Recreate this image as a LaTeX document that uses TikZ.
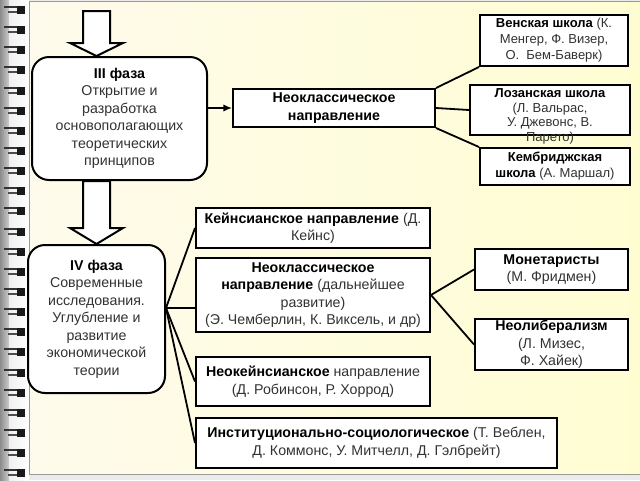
\documentclass[tikz,border=0pt]{standalone}
\usepackage{fontspec}
\setmainfont{Liberation Sans}
\usetikzlibrary{arrows.meta,calc}
\definecolor{pageleft}{RGB}{255,251,236}
\definecolor{pageright}{RGB}{254,253,210}
\definecolor{boxtext}{RGB}{50,50,50}
\newcommand{\ttl}[1]{\textbf{\color{black}#1}}

\begin{document}
\begin{tikzpicture}[x=1pt,y=-1pt,
  phasebox/.style={
    draw,
    line width=2pt,
    fill=white,
    rounded corners=17pt,
    align=center,
    inner sep=0pt,
    text=boxtext,
    font=\fontsize{14.2}{17.5}\selectfont
  },
  schoolbox/.style={
    draw,
    line width=2pt,
    fill=white,
    align=center,
    inner sep=0pt,
    text=boxtext,
    font=\fontsize{14.2}{17.5}\selectfont
  },
  topschool/.style={
    schoolbox,
    font=\fontsize{13}{16}\selectfont
  },
  link/.style={line width=1.8pt},
  flowarrow/.style={-{Latex[length=3mm,width=2.6mm]}, line width=1.8pt},
  blockarrow/.style={draw, line width=2pt, fill=white, line join=miter}
  ]

  \useasboundingbox (0,0) rectangle (640,480);

  % notebook page
  \fill[black!8] (0,0) rectangle (640,480);
  \shade[left color=black!45, right color=black!20] (0,0) rectangle (9,480);
  \shade[left color=black!6, right color=white] (9,0) rectangle (29,480);
  \shade[left color=pageleft, right color=pageright] (29,1) rectangle (640,474);
  \draw[black!40, line width=0.8pt] (640,1) -- (29,1) -- (29,474) -- (640,474);
  \foreach \k in {0,...,23}{
    \pgfmathsetmacro\yy{10+20.14*\k}
    \fill[black!90] (17,\yy-4) rectangle (25,\yy+4);
    \fill[black!80] (4,\yy-4) rectangle (17,\yy-2);
    \fill[black!70] (8,\yy+1) rectangle (17,\yy+3);
  }

  % phases
  \node[phasebox, minimum width=175pt, minimum height=123pt] (phase3) at (119.5,118.5) {
    \ttl{III фаза}\\
    Открытие и\\
    разработка\\
    основополагающих\\
    теоретических\\
    принципов
  };
  \node[phasebox, minimum width=137pt, minimum height=148pt] (phase4) at (96.5,319) {
    \ttl{IV фаза}\\
    Современные\\
    исследования.\\
    Углубление и\\
    развитие\\
    экономической\\
    теории
  };

  % III phase branch
  \node[schoolbox, minimum width=202pt, minimum height=38pt] (neo) at (334,108) {
    \ttl{Неоклассическое}\\
    \ttl{направление}
  };
  \node[topschool, minimum width=148pt, minimum height=51pt] (vienna) at (554,40.5) {
    \ttl{Венская школа} (К.\\
    Менгер, Ф. Визер,\\
    О.~~Бем-Баверк)
  };
  \node[topschool, minimum width=160pt, minimum height=50pt] (lausanne) at (550,110) {};
  \node[text=boxtext, align=center, font=\fontsize{13}{14.5}\selectfont] (lausannetext) at (550,116.5) {
    \ttl{Лозанская школа}\\
    (Л. Вальрас,\\
    У. Джевонс, В.\\
    Парето)
  };
  \node[topschool, minimum width=150pt, minimum height=37pt] (cambridge) at (555,166.5) {
    \ttl{Кембриджская}\\
    \ttl{школа} (А. Маршал)
  };

  % IV phase branch
  \node[schoolbox, minimum width=234pt, minimum height=40pt] (keynes) at (313,228) {
    \ttl{Кейнсианское направление} (Д.\\
    Кейнс)
  };
  \node[schoolbox, minimum width=234pt, minimum height=74pt] (neodev) at (313,295) {
    \ttl{Неоклассическое}\\
    \ttl{направление} (дальнейшее\\
    развитие)\\
    (Э. Чемберлин, К. Виксель, и др)
  };
  \node[schoolbox, minimum width=234pt, minimum height=49pt] (neokeynes) at (313,381.5) {
    \ttl{Неокейнсианское} направление\\
    (Д. Робинсон, Р. Хоррод)
  };
  \node[schoolbox, minimum width=361pt, minimum height=50pt] (inst) at (376.5,443) {
    \ttl{Институционально-социологическое} (Т. Веблен,\\
    Д. Коммонс, У. Митчелл, Д. Гэлбрейт)
  };
  \node[schoolbox, minimum width=153pt, minimum height=41pt] (monet) at (551.5,269.5) {
    \ttl{Монетаристы}\\
    (М. Фридмен)
  };
  \node[schoolbox, minimum width=153pt, minimum height=51pt] (neolib) at (551.5,344.5) {
    \ttl{Неолиберализм}\\
    (Л. Мизес,\\
    Ф. Хайек)
  };

  % block arrows
  \coordinate (in3) at (96.5,11);
  \draw[blockarrow] let \p1=(in3), \p2=(phase3.north -| in3) in
    (\x1-13.5pt,\y1) -- (\x1+13.5pt,\y1) -- (\x1+13.5pt,\y2+13pt) -- (\x1+26.5pt,\y2+13pt)
    -- (\x2,\y2) -- (\x1-26.5pt,\y2+13pt) -- (\x1-13.5pt,\y2+13pt) -- cycle;
  \draw[blockarrow] let \p1=(phase3.south -| in3), \p2=(phase4.north) in
    (\x2-13.5pt,\y1) -- (\x2+13.5pt,\y1) -- (\x2+13.5pt,\y2+16pt) -- (\x2+26.5pt,\y2+16pt)
    -- (\x2,\y2) -- (\x2-26.5pt,\y2+16pt) -- (\x2-13.5pt,\y2+16pt) -- cycle;

  % connectors
  \draw[flowarrow] (neo.west -| phase3.east) -- (neo.west);
  \draw[link] (neo.north east) -- (vienna.south west);
  \draw[link] (neo.east) -- (lausanne.west);
  \draw[link] (neo.south east) -- (cambridge.north west);

  \coordinate (hub) at ($(phase4.east)+(0,-11)$);
  \draw[link] (hub) -- (keynes.west);
  \draw[link] (hub) -- (neodev.west |- hub);
  \draw[link] (hub) -- (neokeynes.west);
  \draw[link] (hub) -- (inst.west);
  \draw[link] (neodev.east) -- (monet.west);
  \draw[link] (neodev.east) -- (neolib.west);

\end{tikzpicture}
\end{document}
